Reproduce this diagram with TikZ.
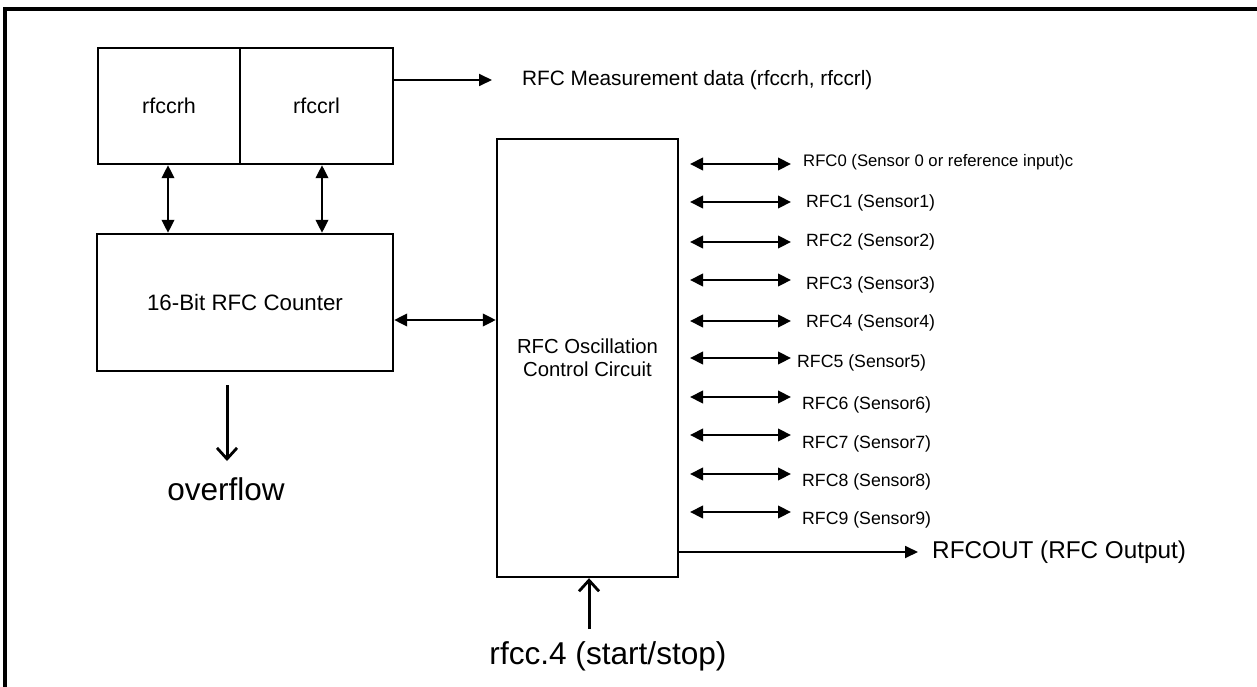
\documentclass[tikz,border=0pt]{standalone}
\usepackage{fontspec}
\setmainfont{Liberation Sans}
\usetikzlibrary{arrows.meta}
\newcommand{\fs}[1]{\fontsize{#1}{#1}\selectfont}
\tikzset{
  box/.style={draw, line width=2.4pt, inner sep=0pt, align=center},
  lab/.style={inner sep=0pt, anchor=west},
  dbl/.style={line width=2.2pt, {Triangle[length=13pt,width=12.5pt]}-{Triangle[length=13pt,width=12.5pt]}},
  single/.style={line width=1.8pt, -{Triangle[length=13pt,width=12pt]}},
  openarr/.style={line width=3pt, -{Straight Barb[length=11pt,width=20pt,line width=2.8pt]}},
  frame/.style={line width=3.2pt}
}
\begin{document}
\begin{tikzpicture}[x=1pt,y=-1pt]
\useasboundingbox (0,0) rectangle (1257,687);
\draw[frame] (5,687) -- (5,9) -- (1257,9);

\node[box, minimum width=142pt, minimum height=116pt, font=\fs{21.5}] (rh) at (169,106) {rfccrh};
\node[box, minimum width=153pt, minimum height=116pt, font=\fs{21.5}] (rl) at (316.5,106) {rfccrl};
\node[box, minimum width=296pt, minimum height=137pt, font=\fs{22.3}] (cnt) at (245,302.5) {16-Bit RFC Counter};
\node[box, minimum width=181pt, minimum height=438pt, font=\fs{20.3}, align=center] (osc) at (587.5,358) {RFC Oscillation\\[3pt]Control Circuit};

\draw[dbl] ([xshift=-1pt]rh.south) -- ([xshift=-1pt]rh.south |- cnt.north);
\draw[dbl] ([xshift=5.5pt]rl.south) -- ([xshift=5.5pt]rl.south |- cnt.north);
\coordinate (c1) at ([yshift=-17.5pt]cnt.east);
\draw[dbl] (c1) -- (c1 -| osc.west);

\node[lab, font=\fs{20.8}] (meas) at (522,80) {RFC Measurement data (rfccrh, rfccrl)};
\draw[single] (rl.east |- meas.west) -- ([xshift=-30pt]meas.west);

\foreach \i/\ay/\tx/\ty/\txt in {
  0/164/803/162/{RFC0 (Sensor 0 or reference input)c},
  1/202/806/203/{RFC1 (Sensor1)},
  2/242/806/242/{RFC2 (Sensor2)},
  3/280/806/285/{RFC3 (Sensor3)},
  4/321/806/323/{RFC4 (Sensor4)},
  5/358/797/363/{RFC5 (Sensor5)},
  6/397/802/405/{RFC6 (Sensor6)},
  7/435/802/444/{RFC7 (Sensor7)},
  8/474/802/482/{RFC8 (Sensor8)},
  9/512/802/520/{RFC9 (Sensor9)}}{
  \node[lab, font=\fs{\ifnum\i=0 16.7\else 17.7\fi}] (s\i) at (\tx,\ty) {\txt};
  \coordinate (a\i l) at (690,\ay);
  \coordinate (a\i r) at (791,\ay);
  \draw[dbl] (a\i l) -- (a\i r);
}

\node[lab, font=\fs{24.3}] (out) at (932,552) {RFCOUT (RFC Output)};
\draw[single] (osc.east |- out.west) -- ([xshift=-14pt]out.west);

\node[inner sep=0pt, anchor=base, font=\fs{31.5}] (ovf) at (226,500) {overflow};
\coordinate (ovs) at (227,385);
\draw[openarr] (ovs) -- (227,461);

\node[inner sep=0pt, anchor=base, font=\fs{31.6}] (stt) at (608,664) {rfcc.4 (start/stop)};
\coordinate (sts) at (589,629);
\draw[openarr] (sts) -- (sts |- osc.south);
\end{tikzpicture}
\end{document}
